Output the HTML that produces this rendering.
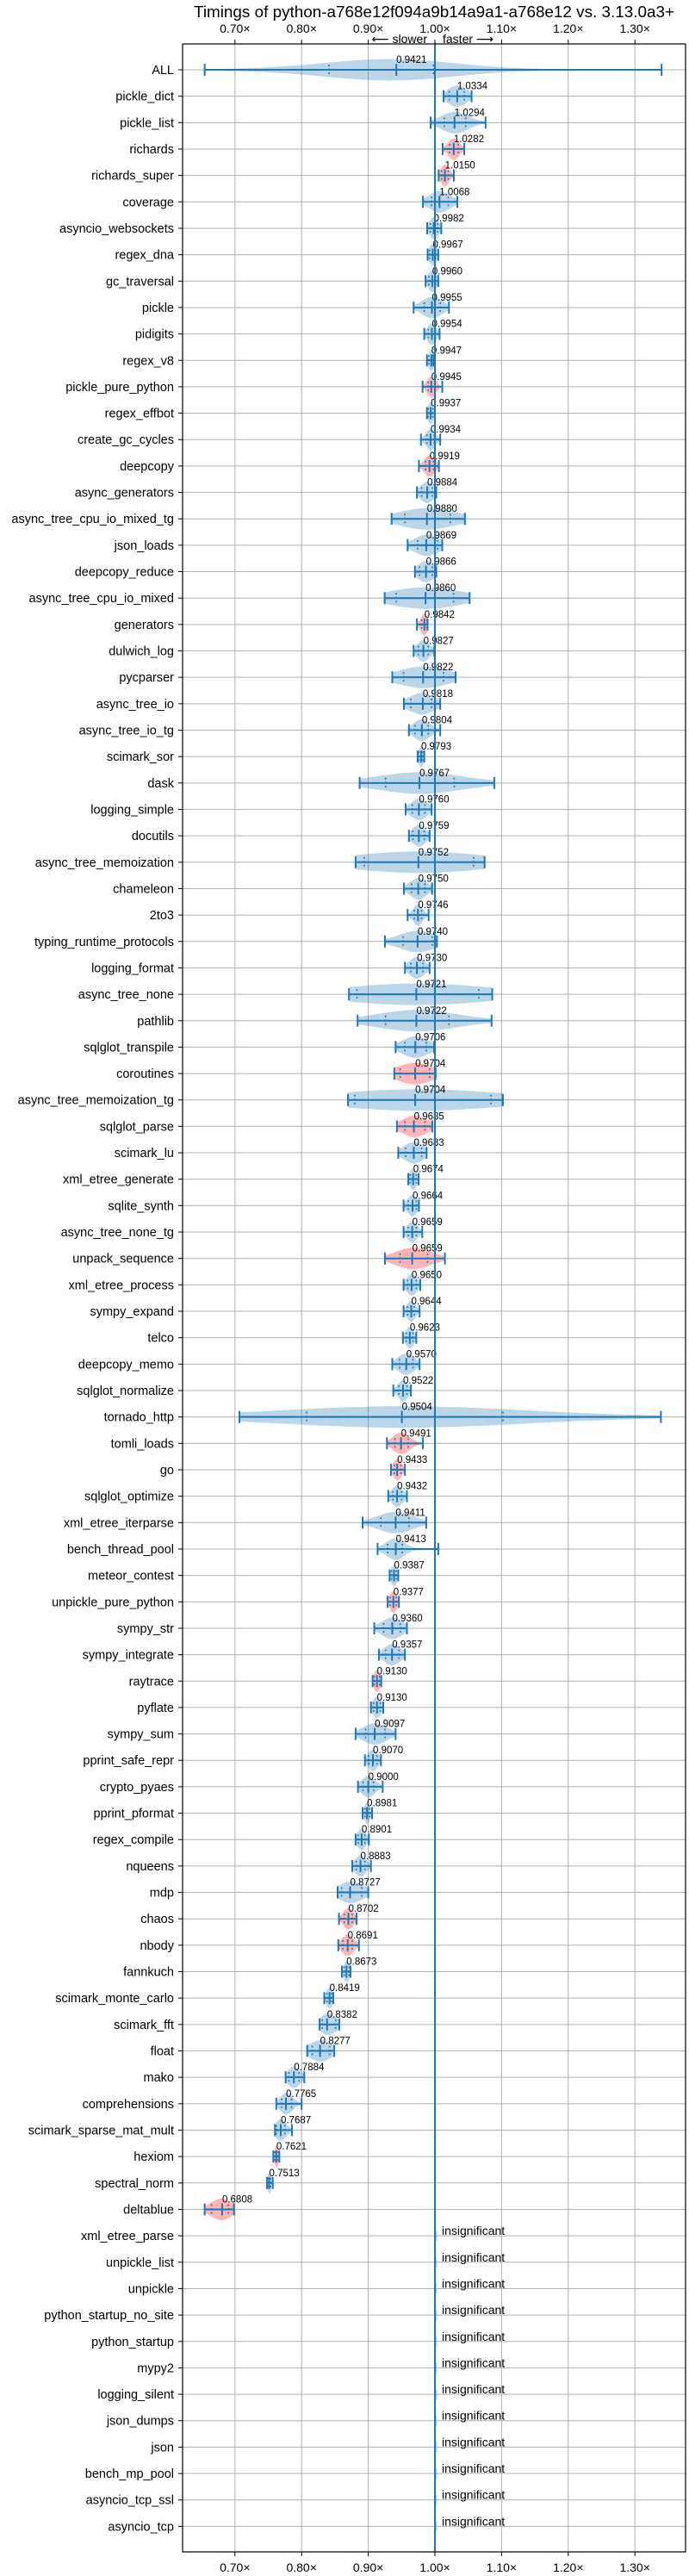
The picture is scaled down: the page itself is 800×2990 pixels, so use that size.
<!DOCTYPE html>
<html><head><meta charset="utf-8"><title>Timings chart</title>
<style>
html,body{margin:0;padding:0;background:#fff;}
svg{display:block;font-family:"Liberation Sans","DejaVu Sans",sans-serif;}
</style></head>
<body>
<svg id="chart" width="800" height="2990" viewBox="0 0 800 2990" xmlns="http://www.w3.org/2000/svg">
<text x="504" y="20" font-size="18" text-anchor="middle" textLength="558" lengthAdjust="spacingAndGlyphs">Timings of python-a768e12f094a9b14a9a1-a768e12 vs. 3.13.0a3+</text>
<text x="496" y="50" font-size="14" text-anchor="end">⟵ slower</text>
<text x="514" y="50" font-size="14" text-anchor="start">faster ⟶</text>
<g id="grid"></g>
<g id="marks"></g>
<g id="axes"></g>
</svg>
<script>
const names = ["ALL","pickle_dict","pickle_list","richards","richards_super","coverage","asyncio_websockets","regex_dna","gc_traversal","pickle","pidigits","regex_v8","pickle_pure_python","regex_effbot","create_gc_cycles","deepcopy","async_generators","async_tree_cpu_io_mixed_tg","json_loads","deepcopy_reduce","async_tree_cpu_io_mixed","generators","dulwich_log","pycparser","async_tree_io","async_tree_io_tg","scimark_sor","dask","logging_simple","docutils","async_tree_memoization","chameleon","2to3","typing_runtime_protocols","logging_format","async_tree_none","pathlib","sqlglot_transpile","coroutines","async_tree_memoization_tg","sqlglot_parse","scimark_lu","xml_etree_generate","sqlite_synth","async_tree_none_tg","unpack_sequence","xml_etree_process","sympy_expand","telco","deepcopy_memo","sqlglot_normalize","tornado_http","tomli_loads","go","sqlglot_optimize","xml_etree_iterparse","bench_thread_pool","meteor_contest","unpickle_pure_python","sympy_str","sympy_integrate","raytrace","pyflate","sympy_sum","pprint_safe_repr","crypto_pyaes","pprint_pformat","regex_compile","nqueens","mdp","chaos","nbody","fannkuch","scimark_monte_carlo","scimark_fft","float","mako","comprehensions","scimark_sparse_mat_mult","hexiom","spectral_norm","deltablue"];
const insignificant = ["xml_etree_parse","unpickle_list","unpickle","python_startup_no_site","python_startup","mypy2","logging_silent","json_dumps","json","bench_mp_pool","asyncio_tcp_ssl","asyncio_tcp"];
const medians = [0.9421,1.0334,1.0294,1.0282,1.0150,1.0068,0.9982,0.9967,0.9960,0.9955,0.9954,0.9947,0.9945,0.9937,0.9934,0.9919,0.9884,0.9880,0.9869,0.9866,0.9860,0.9842,0.9827,0.9822,0.9818,0.9804,0.9793,0.9767,0.9760,0.9759,0.9752,0.9750,0.9746,0.9740,0.9730,0.9721,0.9722,0.9706,0.9704,0.9704,0.9685,0.9683,0.9674,0.9664,0.9659,0.9659,0.9650,0.9644,0.9623,0.9570,0.9522,0.9504,0.9491,0.9433,0.9432,0.9411,0.9413,0.9387,0.9377,0.9360,0.9357,0.9130,0.9130,0.9097,0.9070,0.9000,0.8981,0.8901,0.8883,0.8727,0.8702,0.8691,0.8673,0.8419,0.8382,0.8277,0.7884,0.7765,0.7687,0.7621,0.7513,0.6808];
const mins = [0.6546,1.013,0.9935,1.0116,1.0056,0.982,0.9884,0.989,0.986,0.968,0.984,0.988,0.9815,0.988,0.979,0.976,0.973,0.935,0.959,0.970,0.9246,0.973,0.968,0.936,0.9535,0.961,0.974,0.887,0.956,0.961,0.881,0.9535,0.959,0.925,0.955,0.871,0.884,0.941,0.939,0.8695,0.943,0.945,0.960,0.953,0.953,0.925,0.953,0.953,0.952,0.936,0.9376,0.7067,0.928,0.934,0.930,0.8915,0.914,0.932,0.929,0.909,0.916,0.9065,0.904,0.881,0.895,0.8846,0.8915,0.881,0.876,0.854,0.856,0.855,0.8605,0.834,0.827,0.8084,0.776,0.762,0.760,0.7575,0.748,0.6546];
const maxs = [1.340,1.055,1.076,1.044,1.0284,1.0336,1.0095,1.005,1.005,1.021,1.007,0.998,1.011,1.0,1.008,1.006,1.002,1.045,1.011,1.002,1.052,0.989,0.999,1.031,1.008,1.008,0.984,1.089,0.995,0.992,1.0745,0.9957,0.9905,1.003,0.992,1.086,1.085,0.9987,1.001,1.102,0.996,0.9875,0.9755,0.976,0.981,1.015,0.978,0.977,0.972,0.977,0.964,1.339,0.982,0.955,0.958,0.987,1.005,0.945,0.946,0.958,0.955,0.9195,0.9225,0.941,0.919,0.9216,0.9057,0.901,0.904,0.900,0.8824,0.886,0.8734,0.8475,0.8566,0.849,0.804,0.800,0.7855,0.7666,0.7567,0.6985];
const q1s = [0.841,1.0215,1.014,1.022,1.010,0.995,0.993,0.992,0.991,0.984,0.990,0.991,0.990,0.990,0.988,0.986,0.980,0.955,0.974,0.977,0.942,0.980,0.975,0.953,0.964,0.970,0.976,0.926,0.966,0.967,0.894,0.965,0.969,0.952,0.964,0.883,0.926,0.955,0.948,0.880,0.955,0.956,0.963,0.960,0.960,0.9475,0.959,0.959,0.957,0.947,0.946,0.8075,0.940,0.939,0.937,0.919,0.929,0.935,0.933,0.923,0.926,0.909,0.908,0.896,0.901,0.892,0.895,0.885,0.882,0.860,0.864,0.862,0.864,0.838,0.831,0.816,0.781,0.770,0.762,0.760,0.7495,0.665];
const q3s = [0.998,1.044,1.046,1.035,1.020,1.020,1.004,1.001,1.001,1.008,1.000,0.997,1.000,0.997,0.999,0.998,0.996,1.023,1.004,0.996,1.028,0.988,0.990,1.013,0.995,0.990,0.982,1.029,0.985,0.984,1.058,0.985,0.980,0.996,0.982,1.066,1.021,0.987,0.992,1.084,0.985,0.980,0.972,0.972,0.972,0.989,0.972,0.969,0.967,0.967,0.958,1.102,0.960,0.949,0.950,0.961,0.951,0.942,0.942,0.948,0.946,0.917,0.918,0.925,0.913,0.908,0.902,0.895,0.895,0.890,0.876,0.876,0.871,0.845,0.851,0.842,0.796,0.785,0.775,0.765,0.7535,0.690];
const slowerFlags = [0,0,0,1,1,0,0,0,0,0,0,0,1,0,0,1,0,0,0,0,0,1,0,0,0,0,0,0,0,0,0,0,0,0,0,0,0,0,1,0,1,0,0,0,0,1,0,0,0,0,0,0,1,1,0,0,0,0,1,0,0,1,0,0,0,0,0,0,0,0,1,1,0,0,0,0,0,0,0,1,0,1];
const xTicks = [0.7,0.8,0.9,1.0,1.1,1.2,1.3];
const xTickLabels = ["0.70×","0.80×","0.90×","1.00×","1.10×","1.20×","1.30×"];

const NS = "http://www.w3.org/2000/svg";
const L = 212, R = 796, T = 51, B = 2962;
const X0 = 505, PX = 774;
function xs(v){ return X0 + (v - 1) * PX; }
const ROW0 = 81, ROWH = 30.66;
function ys(i){ return ROW0 + i * ROWH; }
function mk(tag, attrs, parent){
  const e = document.createElementNS(NS, tag);
  for (const k in attrs) e.setAttribute(k, attrs[k]);
  parent.appendChild(e);
  return e;
}
const grid = document.getElementById('grid');
const marks = document.getElementById('marks');
const axes = document.getElementById('axes');
const allNames = names.concat(insignificant);
const BLUE = "#1f77b4";

// grid lines
xTicks.forEach((t, k) => {
  const g = mk('line', {x1: xs(t), x2: xs(t), y1: T, y2: B, stroke: "#b0b0b0", "stroke-width": 1}, grid);
  
  
});
allNames.forEach((n, i) => {
  const g = mk('line', {x1: L, x2: R, y1: ys(i), y2: ys(i), stroke: "#b0b0b0", "stroke-width": 1}, grid);
  
  
});

// violins
const H = 12.5;
names.forEach((n, i) => {
  const y = ys(i);
  const md = medians[i], mn = mins[i], mx = maxs[i], a = q1s[i], b = q3s[i];
  const g = mk('g', {}, marks);
  
  
  const s = Math.max((b - a) / 1.35, 0.002);
  const N = 40;
  const top = [], bot = [];
  for (let k = 0; k <= N; k++) {
    const v = mn + (mx - mn) * k / N;
    const d = Math.exp(-0.5 * Math.pow((v - (a + b) / 2) / s, 2)) * 0.6 + Math.exp(-0.5 * Math.pow((v - md) / (s * 0.7), 2)) * 0.4;
    top.push([xs(v), y - H * d]);
    bot.push([xs(v), y + H * d]);
  }
  let maxd = 0; top.forEach(p => { maxd = Math.max(maxd, y - p[1]); });
  const sc = maxd > 0 ? H / maxd : 1;
  const pts = top.map(p => [p[0], y - (y - p[1]) * sc]).concat(bot.reverse().map(p => [p[0], y + (p[1] - y) * sc]));
  const poly = mk('polygon', {points: pts.map(p => p[0].toFixed(1) + ',' + p[1].toFixed(1)).join(' '),
    fill: slowerFlags[i] ? "#ff9c9c" : BLUE, "fill-opacity": slowerFlags[i] ? 0.75 : 0.3}, g);
  
  
  const w = mk('line', {x1: xs(mn), x2: xs(mx), y1: y, y2: y, stroke: BLUE, "stroke-width": 2}, g);
  
  
  [mn, mx, md].forEach((v, k) => {
    const c = mk('line', {x1: xs(v), x2: xs(v), y1: y - 7, y2: y + 7, stroke: BLUE, "stroke-width": 2}, g);
    
    
  });
  [a, b].forEach((v, k) => {
    const c = mk('line', {x1: xs(v), x2: xs(v), y1: y - 6, y2: y + 6, stroke: BLUE, "stroke-width": 1.6, "stroke-dasharray": "2,2.5"}, g);
    
    
  });
  const t = mk('text', {x: xs(md), y: y - 8, "font-size": 11.5, fill: "#000"}, g);
  t.textContent = md.toFixed(4);
  
  
});

// insignificant rows
insignificant.forEach((n, j) => {
  const i = names.length + j;
  const y = ys(i);
  const m = mk('line', {x1: xs(1) + 1, x2: xs(1) + 1, y1: y - 6, y2: y + 6, stroke: BLUE, "stroke-opacity": 0.3, "stroke-width": 3}, marks);
  
  
  const t = mk('text', {x: 513, y: y - 1, "font-size": 14, fill: "#000"}, marks);
  t.textContent = "insignificant";
  
  
});

// reference line
const ref = mk('line', {x1: xs(1), x2: xs(1), y1: T, y2: B, stroke: BLUE, "stroke-width": 2}, marks);



// axes frame
const frame = mk('rect', {x: L, y: T, width: R - L, height: B - T, fill: "none", stroke: "#000", "stroke-width": 1.2}, axes);



xTicks.forEach((t, k) => {
  const x = xs(t);
  const tt = mk('line', {x1: x, x2: x, y1: T, y2: T - 5, stroke: "#000", "stroke-width": 1}, axes);
  
  
  const tb = mk('line', {x1: x, x2: x, y1: B, y2: B + 5, stroke: "#000", "stroke-width": 1}, axes);
  
  
  const lt = mk('text', {x: x, y: 38, "font-size": 14, "text-anchor": "middle"}, axes);
  lt.textContent = xTickLabels[k];
  
  
  const lb = mk('text', {x: x, y: 2985, "font-size": 14, "text-anchor": "middle"}, axes);
  lb.textContent = xTickLabels[k];
  
  
});

allNames.forEach((n, i) => {
  const y = ys(i);
  const tk = mk('line', {x1: L - 5, x2: L, y1: y, y2: y, stroke: "#000", "stroke-width": 1}, axes);
  
  
  const lb = mk('text', {x: L - 10, y: y + 5, "font-size": 14.5, "text-anchor": "end"}, axes);
  lb.textContent = n;
  
  
});
</script>
</body></html>
